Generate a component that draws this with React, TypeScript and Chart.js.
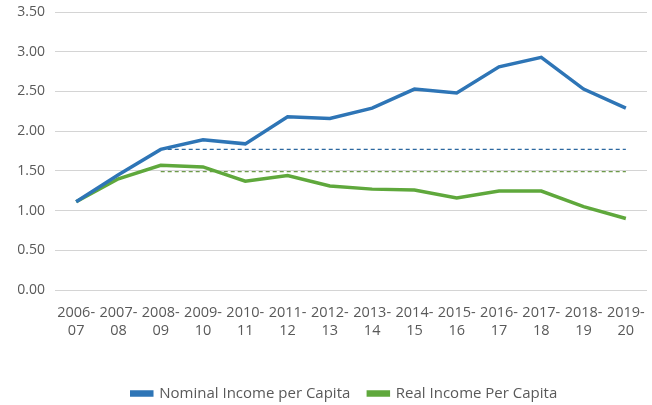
import React, { useEffect, useRef } from "react";
import { Chart, registerables } from "chart.js";

Chart.register(...registerables);

const categories: string[][] = [
  ["2006-", "07"], ["2007-", "08"], ["2008-", "09"], ["2009-", "10"], ["2010-", "11"],
  ["2011-", "12"], ["2012-", "13"], ["2013-", "14"], ["2014-", "15"], ["2015-", "16"],
  ["2016-", "17"], ["2017-", "18"], ["2018-", "19"], ["2019-", "20"],
];

const nominalIncome: number[] = [1.11, 1.45, 1.77, 1.89, 1.84, 2.18, 2.16, 2.29, 2.53, 2.48, 2.81, 2.93, 2.53, 2.29];
const realIncome: number[] = [1.11, 1.40, 1.57, 1.55, 1.37, 1.44, 1.31, 1.27, 1.26, 1.16, 1.245, 1.245, 1.05, 0.90];
const nominalReference: (number | null)[] = [null, null, 1.77, 1.77, 1.77, 1.77, 1.77, 1.77, 1.77, 1.77, 1.77, 1.77, 1.77, 1.77];
const realReference: (number | null)[] = [null, null, 1.49, 1.49, 1.49, 1.49, 1.49, 1.49, 1.49, 1.49, 1.49, 1.49, 1.49, 1.49];

const BLUE = "#2E75B6";
const GREEN = "#5FA83C";
const TEXT = "#595959";
const FONT = "'Open Sans', sans-serif";

const legendShift = {
  id: "legendShift",
  afterLayout(chart: any) {
    const lg = chart.legend;
    if (lg) {
      lg.left += 21;
      lg.right += 21;
      if (lg.legendHitBoxes) lg.legendHitBoxes.forEach((b: any) => (b.left += 21));
    }
  },
};

export default function App() {
  const ref = useRef<HTMLCanvasElement | null>(null);

  useEffect(() => {
    document.body.style.margin = "0";
    const ctx = ref.current;
    if (!ctx) return;
    const chart = new Chart(ctx, {
      type: "line",
      plugins: [legendShift],
      data: {
        labels: categories,
        datasets: [
          {
            label: "Nominal Income per Capita",
            data: nominalIncome,
            borderColor: BLUE,
            backgroundColor: BLUE,
            borderWidth: 3.5,
            pointRadius: 0,
            tension: 0,
          },
          {
            label: "Real Income Per Capita",
            data: realIncome,
            borderColor: GREEN,
            backgroundColor: GREEN,
            borderWidth: 3.5,
            pointRadius: 0,
            tension: 0,
          },
          {
            label: "nominal-ref",
            data: nominalReference,
            borderColor: "#2C68A0",
            borderWidth: 1.2,
            borderDash: [4, 3],
            pointRadius: 0,
          },
          {
            label: "real-ref",
            data: realReference,
            borderColor: "#6E9A4A",
            borderWidth: 1.2,
            borderDash: [4, 3],
            pointRadius: 0,
          },
        ],
      },
      options: {
        animation: false,
        responsive: true,
        maintainAspectRatio: false,
        layout: { padding: { top: 12, right: 5, left: 0, bottom: -6 } },
        plugins: {
          tooltip: { enabled: false },
          legend: {
            position: "bottom",
            labels: {
              filter: (item) => item.datasetIndex < 2,
              boxWidth: 20,
              boxHeight: 3,
              padding: 18,
              color: TEXT,
              font: { family: FONT, size: 15 },
            },
          },
        },
        scales: {
          x: {
            offset: true,
            grid: { display: false },
            border: { display: false },
            ticks: {
              color: TEXT,
              font: { family: FONT, size: 14.5, lineHeight: 1.3 },
              maxRotation: 0,
              autoSkip: false,
              padding: 5,
            },
            afterFit: (scale: any) => {
              scale.height = 78;
            },
          },
          y: {
            min: 0,
            max: 3.5,
            grid: { color: "#D4D4D4", lineWidth: 1, drawTicks: false },
            border: { display: false },
            ticks: {
              stepSize: 0.5,
              color: TEXT,
              font: { family: FONT, size: 14 },
              padding: 10,
              callback: (v: any) => Number(v).toFixed(2),
            },
            afterFit: (scale: any) => {
              scale.width = 55;
              scale.paddingTop = 0;
              scale.paddingBottom = 0;
            },
          },
        },
      },
    });
    return () => chart.destroy();
  }, []);

  return (
    <div style={{ width: 652, height: 405, position: "relative", background: "#fff" }}>
      <canvas ref={ref} />
    </div>
  );
}
